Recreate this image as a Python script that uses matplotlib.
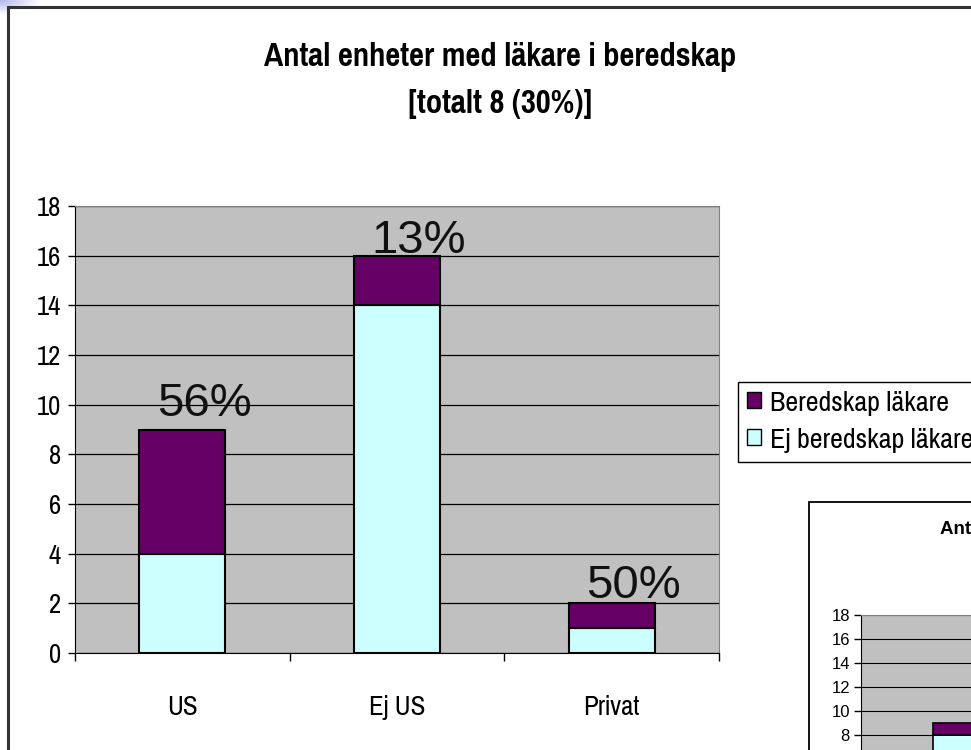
import numpy as np
import matplotlib
matplotlib.use("Agg")
import matplotlib.pyplot as plt
from matplotlib import font_manager
from matplotlib.patches import Rectangle, Patch

# data
categories = ["US", "Ej US", "Privat"]
ej_beredskap = [4, 14, 1]
beredskap = [5, 2, 1]
series_names = ["Beredskap läkare", "Ej beredskap läkare"]
title_lines = ["Antal enheter med läkare i beredskap", "[totalt 8 (30%)]"]

# second (cut off) chart in the corner, only first bar visible
inset_ej = [8]
inset_ber = [1]
yticks = [0, 2, 4, 6, 8, 10, 12, 14, 16, 18]
inset_yticks = [8, 10, 12, 14, 16, 18]

# style
purple = "#660066"
cyan = "#CCFFFF"
plot_bg = "#C0C0C0"
arial = ["Liberation Sans", "DejaVu Sans"]

# pick an Arial Narrow look-alike, one with regular and bold faces
weights = {}
for f in font_manager.fontManager.ttflist:
    if f.style == "normal":
        weights.setdefault(f.name, set()).add(f.weight)
prefs = ["Liberation Sans Narrow", "Arial Narrow", "Pragati Narrow", "PT Sans Narrow",
         "Roboto Condensed", "Archivo Narrow", "Open Sans Condensed", "Barlow Semi Condensed",
         "Asap Condensed"]

def has(name, w):
    return any(str(x) == str(w) or x == w for x in weights.get(name, ())) or \
        (w == 400 and "normal" in weights.get(name, ())) or (w == 700 and "bold" in weights.get(name, ()))

reg_font = next((n for n in prefs if has(n, 400) and has(n, 700)), None)
if reg_font is None:
    reg_font = next((n for n in prefs if has(n, 400)), "Liberation Sans")
bold_font = reg_font if has(reg_font, 700) else next((n for n in prefs if has(n, 700)), "Liberation Sans")
narrow = [reg_font, "DejaVu Sans"]
narrow_bold = [bold_font, "DejaVu Sans"]

W, H = 971, 750
fig = plt.figure(figsize=(W / 100, H / 100), dpi=100)

def fx(px):
    return px / W

def fy(py):
    return 1 - py / H

# slide background corner gradient
gax = fig.add_axes([0, fy(40), fx(60), 40 / H], zorder=0)
yy, xx = np.mgrid[0:40, 0:60]
d = np.clip(np.sqrt((xx / 40.0) ** 2 + (yy / 14.0) ** 2), 0, 1)
c0 = np.array([0.70, 0.72, 0.92])
img = c0[None, None, :] * (1 - d[..., None]) + np.ones(3)[None, None, :] * d[..., None]
gax.imshow(img, aspect="auto", interpolation="bilinear")
gax.axis("off")

# chart frame
fig.patches.append(Rectangle((fx(8), -0.1), 1.0, fy(7) + 0.1, transform=fig.transFigure,
                             facecolor="white", edgecolor="#333333", lw=2.2, zorder=1))

# main plot
ax = fig.add_axes([fx(75), fy(653), fx(719) - fx(75), (653 - 206) / H], zorder=2)
ax.set_facecolor(plot_bg)
x = np.arange(len(categories))
tot = np.array(ej_beredskap) + np.array(beredskap)
ax.bar(x, ej_beredskap, width=0.4, color=cyan, edgecolor="black", lw=1.5, zorder=3)
ax.bar(x, beredskap, bottom=ej_beredskap, width=0.4, color=purple, edgecolor="black", lw=1.5, zorder=3)
ax.set_xlim(-0.5, len(categories) - 0.5)
ax.set_ylim(0, 18)
ax.set_yticks(yticks)
ax.yaxis.grid(True, color="black", lw=0.9)
ax.set_axisbelow(True)
for s in ["top", "right"]:
    ax.spines[s].set_color("#808080")
for s in ["left", "bottom"]:
    ax.spines[s].set_color("black")
ax.tick_params(axis="y", length=5, width=1, labelsize=21, pad=5)
ax.set_xticks(np.arange(len(categories) + 1) - 0.5)
ax.set_xticklabels([])
ax.tick_params(axis="x", which="major", length=6, width=1)
ax.set_xticks(x, minor=True)
ax.set_xticklabels(categories, minor=True)
ax.tick_params(axis="x", which="minor", length=0, labelsize=21, pad=30)
for lab in ax.get_xticklabels(minor=True) + ax.get_yticklabels():
    lab.set_family(narrow)

# percent labels above bars
label_dy = [13, 3, 5]
for i in range(len(categories)):
    pct = int(100.0 * beredskap[i] / tot[i] + 0.5)
    ax.annotate(f"{pct}%", (x[i], tot[i]), xytext=(22 * 0.72, label_dy[i] * 0.72),
                textcoords="offset points", ha="center", va="baseline",
                fontsize=34, family=arial, color="#111111", zorder=5)

# title
fig.text(fx(500), fy(57), title_lines[0], ha="center", va="center", fontsize=25.5,
         fontweight="bold", family=narrow_bold, zorder=5)
fig.text(fx(500), fy(104), title_lines[1], ha="center", va="center", fontsize=25.5,
         fontweight="bold", family=narrow_bold, zorder=5)

# legend
handles = [Patch(facecolor=purple, edgecolor="black"), Patch(facecolor=cyan, edgecolor="black")]
leg = fig.legend(handles, series_names, loc="upper left", bbox_to_anchor=(fx(738), fy(382)),
                 bbox_transform=fig.transFigure, borderaxespad=0, fancybox=False, framealpha=1,
                 edgecolor="black", handlelength=0.45, handleheight=0.45, handletextpad=0.3,
                 labelspacing=0.38, borderpad=0.3, prop={"family": narrow, "size": 22})
leg.get_frame().set_linewidth(1.0)
leg.set_zorder(6)

# second chart, cut off at the corner
fig.patches.append(Rectangle((fx(809), -0.1), 1.0, fy(502) + 0.1, transform=fig.transFigure,
                             facecolor="white", edgecolor="black", lw=1.3, zorder=3))
fig.text(fx(940), fy(529), title_lines[0], ha="left", va="center",
         fontsize=13.5, fontweight="bold", family=arial, zorder=6)
iax = fig.add_axes([fx(861), fy(831), 720 / W, 216 / H], zorder=4)
iax.set_facecolor(plot_bg)
ix = np.arange(len(inset_ej))
iax.bar(ix, inset_ej, width=0.4, color=cyan, edgecolor="black", lw=1.2, zorder=3)
iax.bar(ix, inset_ber, bottom=inset_ej, width=0.4, color=purple, edgecolor="black", lw=1.2, zorder=3)
iax.set_xlim(-0.5, 2.5)
iax.set_ylim(0, 18)
iax.set_yticks(inset_yticks)
iax.yaxis.grid(True, color="black", lw=0.8)
iax.set_axisbelow(True)
iax.spines["top"].set_color("#808080")
iax.set_xticks([])
iax.tick_params(axis="y", length=5, width=1, labelsize=12, pad=3)
for lab in iax.get_yticklabels():
    lab.set_family(arial)

fig.savefig("out.png", dpi=100)
